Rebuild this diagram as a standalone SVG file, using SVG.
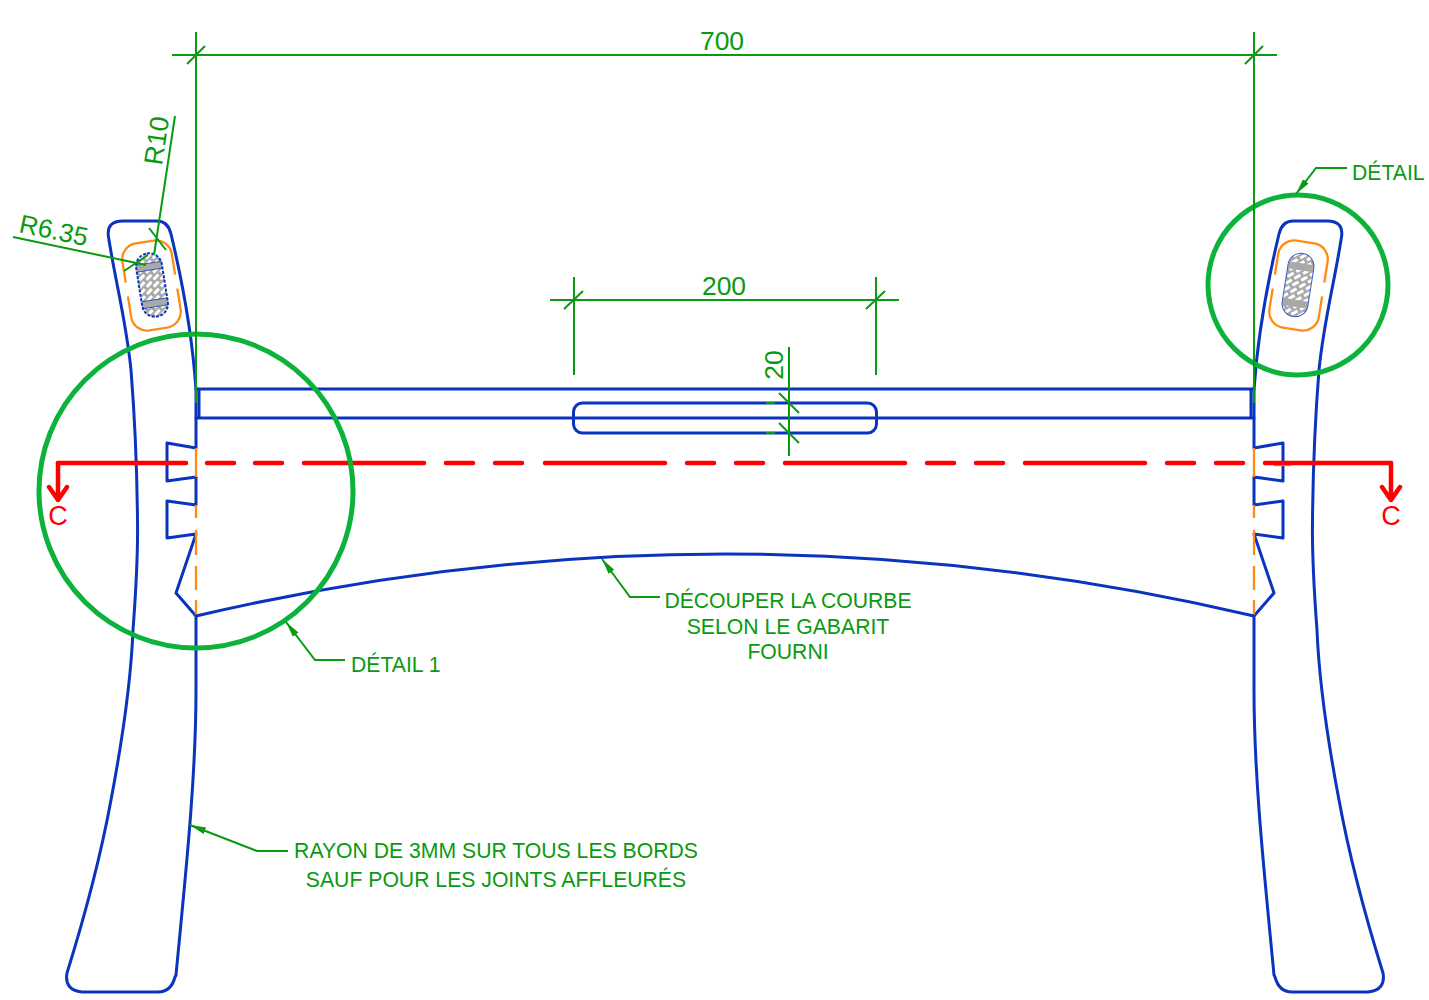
<svg xmlns="http://www.w3.org/2000/svg" width="1429" height="1000" viewBox="0 0 1429 1000">
<style>
.b{fill:none;stroke:#0a34bd;stroke-width:3;stroke-linejoin:round;stroke-linecap:round}
.o{fill:none;stroke:#ff8a14;stroke-width:2.3}
.d{fill:none;stroke:#0a9a10;stroke-width:2}
.c{fill:none;stroke:#0cb23a;stroke-width:5}
.r{fill:none;stroke:#ff0000;stroke-width:4.500;stroke-linecap:round;stroke-linejoin:round}
text{font-family:"Liberation Sans",Arial,sans-serif;fill:#0a9a10}
.t21{font-size:21.200px}.t26{font-size:26.500px}.m{text-anchor:middle}
.rt{fill:#ff0000;font-size:27px;text-anchor:middle}
</style>
<defs>
<pattern id="h" width="10" height="10" patternUnits="userSpaceOnUse" patternTransform="rotate(-38)">
<rect width="10" height="10" fill="#a9a9a9"/>
<rect x="0" y="1" width="7" height="3" fill="#fff"/>
<rect x="5" y="6" width="7" height="3" fill="#fff"/>
<rect x="-5" y="6" width="7" height="3" fill="#fff"/>
</pattern>
<marker id="a" markerUnits="userSpaceOnUse" markerWidth="18" markerHeight="10" refX="16" refY="5" orient="auto-start-reverse" viewBox="0 0 18 10"><path d="M0,1.500 L16,5 L0,8.500 Z" fill="#0a9a10"/></marker>
<g id="legShape">
<path class="b" d="M108.500,237 Q106,221 123,221 H157 Q168,221 171,234 C182,280 192,330 196,390 V448 L167,443 V481 L196,477 V505 L167,501 V538 L196,534 L176,593 L196,616 V690 C196,780 185,880 176,975 L175,977 Q171,992 158,992 H82 Q64,990 67,973 C81,928 100,860 111,800 C122,742 131,680 133,630 C136,590 138,550 137.500,520 C137,470 135,420 131,370 C126,320 116,285 108.500,237 Z"/>
<path class="o" d="M196,448 V477 M196,505 V518 M196,530 V555 M196,566 V590 M196,600 V615"/>
</g>
<path id="orangeSlot" class="o" d="M-25,-7 V-28 A16,16 0 0 1 -9,-44 H9 A16,16 0 0 1 25,-28 V-7 M25,7 V28 A16,16 0 0 1 9,44 H-9 A16,16 0 0 1 -25,28 V7"/>
<g id="slotFill">
<rect x="-13" y="-32" width="26" height="64" rx="13" fill="url(#h)"/>
<rect x="-13" y="-22" width="26" height="7" fill="#a9a9a9"/>
<rect x="-13" y="15" width="26" height="7" fill="#a9a9a9"/>
</g>
</defs>
<g id="leg-left">
<use href="#legShape"/>
<g transform="translate(151.500,285.500) rotate(-9)"><use href="#orangeSlot"/></g>
<g transform="translate(152,285) rotate(-9)"><use href="#slotFill"/><rect x="-13" y="-32" width="26" height="64" rx="13" fill="none" stroke="#0a34bd" stroke-width="2" stroke-dasharray="3 1.500"/><path d="M-13,-22 H13 M-13,-15 H13 M-13,15 H13 M-13,22 H13" fill="none" stroke="#0a34bd" stroke-width=".7"/></g>
</g>
<g id="leg-right">
<g transform="matrix(-1,0,0,1,1450,0)"><use href="#legShape"/></g>
<g transform="translate(1298.500,285.500) rotate(9)"><use href="#orangeSlot"/></g>
<g transform="translate(1298,285) rotate(9)"><use href="#slotFill"/><rect x="-13" y="-32" width="26" height="64" rx="13" fill="none" stroke="#3a5cc8" stroke-width="1"/></g>
<path class="o" d="M1274,465 H1291"/>
</g>
<g id="rail">
<path class="b" d="M196,389 H1254 M196,418 H1254 M199,389 V418 M1251,389 V418"/>
<rect class="b" x="573.500" y="403" width="303" height="30" rx="9"/>
<path class="b" d="M196,616 Q725,492 1254,616"/>
</g>
<g id="section-line">
<path class="r" d="M58,463 H186 M207,463 H234 M255,463 H282 M304,463 H424 M446,463 H473 M495,463 H522 M545,463 H665 M687,463 H714 M736,463 H763 M785,463 H905 M927,463 H954 M976,463 H1003 M1025,463 H1145 M1167,463 H1194 M1216,463 H1243 M1265,463 H1391"/>
<path class="r" d="M58,463 V500 M49,487 L58,500 L67,487 M1391,463 V500 M1382,487 L1391,500 L1400,487"/>
<text class="rt" x="58" y="525">C</text>
<text class="rt" x="1391" y="525">C</text>
</g>
<g id="detail-left"><circle class="c" cx="196" cy="491" r="157"/></g>
<g id="detail-right"><circle class="c" cx="1298" cy="285" r="90"/></g>
<g id="connectors">
<path class="d" d="M172,55 H1277 M196,32 V403 M1254,32 V403 M187,64 L205,46 M1245,64 L1263,46"/>
<path class="d" d="M550,300 H899 M574,277 V375 M876,277 V375 M564,309 L583,291 M866,309 L885,291"/>
<path class="d" d="M789,347 V456 M779,393 L799,413 M779,423 L799,443 M766,403 H775 M766,433 H775"/>
<path class="d" d="M175,116 L154,255 M149,228 L166,250 M13,237 L146,265 M124,271 L148,255"/>
<path class="d" marker-start="url(#a)" d="M286,622 L315,660 H345"/>
<path class="d" marker-start="url(#a)" d="M602,559 L630,597 H660"/>
<path class="d" marker-start="url(#a)" d="M190,825 L257,851 H288"/>
<path class="d" marker-start="url(#a)" d="M1296,194 L1316,168 H1347"/>
</g>
<g id="labels">
<text class="t26 m" x="722" y="50">700</text>
<text class="t26 m" x="724" y="295">200</text>
<text class="t26 m" transform="translate(783,365) rotate(-90)">20</text>
<text class="t26" transform="translate(162,166) rotate(-81.500)">R10</text>
<text style="font-size:26px" transform="translate(18,232) rotate(11.800)">R6.35</text>
<text class="t21" x="1352" y="180">DÉTAIL</text>
<text class="t21" x="351" y="672">DÉTAIL 1</text>
<text class="t21 m" x="788" y="608">DÉCOUPER LA COURBE</text>
<text class="t21 m" x="788" y="634">SELON LE GABARIT</text>
<text class="t21 m" x="788" y="659">FOURNI</text>
<text class="t21 m" x="496" y="858">RAYON DE 3MM SUR TOUS LES BORDS</text>
<text class="t21 m" x="496" y="887">SAUF POUR LES JOINTS AFFLEURÉS</text>
</g>
</svg>
